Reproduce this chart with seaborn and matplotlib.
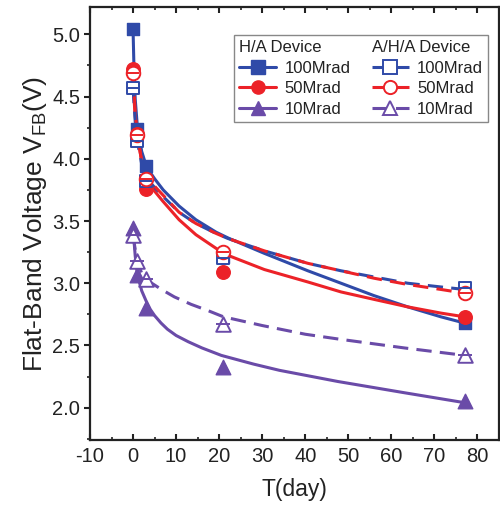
import numpy as np
import pandas as pd
import matplotlib
matplotlib.use("Agg")
import matplotlib.pyplot as plt
from matplotlib.lines import Line2D
from matplotlib.ticker import MultipleLocator
import seaborn as sns

# ---------------- data ----------------
days = [0, 1, 3, 21, 77]
ha_100 = [5.04, 4.24, 3.94, 3.21, 2.68]
ha_50 = [4.72, 4.20, 3.76, 3.09, 2.73]
ha_10 = [3.44, 3.07, 2.80, 2.33, 2.05]
aha_100 = [4.57, 4.14, 3.82, 3.20, 2.96]
aha_50 = [4.69, 4.19, 3.84, 3.25, 2.92]
aha_10 = [3.39, 3.18, 3.03, 2.67, 2.42]

# fitted curves
fit_ha_100_t = [0, 0.25, 0.5, 1, 2, 3, 4, 5, 7, 10.7, 14.6, 19.3, 22.3, 30.5, 40.6, 48.3, 56, 63.8, 71.5, 77]
fit_ha_100_v = [5.04, 4.68, 4.48, 4.26, 4.06, 3.95, 3.89, 3.84, 3.75, 3.62, 3.51, 3.41, 3.36, 3.24, 3.10, 3.00, 2.90, 2.81, 2.73, 2.68]
fit_ha_50_t = [0, 0.25, 0.5, 1, 2, 3, 4, 5, 6.9, 10.7, 14.6, 19.3, 21.6, 30.5, 40.6, 48.3, 56, 63.8, 71.5, 77]
fit_ha_50_v = [4.72, 4.47, 4.34, 4.19, 3.98, 3.86, 3.79, 3.74, 3.66, 3.51, 3.39, 3.28, 3.23, 3.11, 3.01, 2.93, 2.87, 2.81, 2.76, 2.73]
fit_ha_10_t = [0, 0.5, 1, 2, 3, 4, 5, 6.5, 8, 10, 12.8, 16, 20.5, 28, 34, 47.6, 63, 77]
fit_ha_10_v = [3.44, 3.22, 3.07, 2.94, 2.86, 2.79, 2.74, 2.68, 2.63, 2.58, 2.53, 2.48, 2.42, 2.35, 2.30, 2.21, 2.12, 2.04]
fit_aha_100_t = [0, 0.5, 1, 2, 3, 4, 5, 6.9, 10.7, 14.6, 19.3, 22, 30.5, 40.6, 48.3, 56, 63.8, 71.5, 77]
fit_aha_100_v = [4.57, 4.30, 4.14, 3.96, 3.87, 3.81, 3.77, 3.70, 3.57, 3.48, 3.40, 3.36, 3.26, 3.16, 3.10, 3.05, 3.00, 2.97, 2.95]
fit_aha_50_t = [0, 0.5, 1, 2, 3, 4, 5, 6.9, 10.7, 14.6, 19.3, 22, 30.5, 40.6, 48.3, 56, 63.8, 71.5, 77]
fit_aha_50_v = [4.69, 4.37, 4.19, 3.98, 3.88, 3.82, 3.78, 3.71, 3.57, 3.48, 3.40, 3.36, 3.26, 3.16, 3.10, 3.04, 2.99, 2.95, 2.92]
fit_aha_10_t = [0, 0.5, 1, 2, 3, 6.6, 9.6, 13.5, 17.4, 21, 30, 40, 48, 63, 77]
fit_aha_10_v = [3.39, 3.27, 3.18, 3.08, 3.03, 2.95, 2.89, 2.83, 2.78, 2.73, 2.66, 2.59, 2.55, 2.48, 2.42]

dose_labels = ["100Mrad", "50Mrad", "10Mrad"]
group_titles = ["H/A Device", "A/H/A Device"]
xticks = [-10, 0, 10, 20, 30, 40, 50, 60, 70, 80]
yticks = [2.0, 2.5, 3.0, 3.5, 4.0, 4.5, 5.0]
xlabel = "T(day)"
ylabel = r"Flat-Band Voltage V$_{\mathrm{FB}}$(V)"

# ---------------- style ----------------
sns.set_theme(style="ticks")
plt.rcParams["font.family"] = ["Liberation Sans", "DejaVu Sans"]
plt.rcParams["mathtext.fontset"] = "custom"
plt.rcParams["mathtext.rm"] = "Liberation Sans"
plt.rcParams["mathtext.it"] = "Liberation Sans:italic"
plt.rcParams["axes.unicode_minus"] = False

BLUE = "#2F4AA8"
RED = "#EC2228"
PURPLE = "#6A4BA8"
INK = "#222222"
LW = 2.2
DASH = (0, (5.0, 2.7))

fig = plt.figure(figsize=(5.0, 5.12), dpi=100)
ax = fig.add_axes([90 / 500, 1 - 440 / 512, 409 / 500, 433 / 512])

curves = [
    (fit_ha_100_t, fit_ha_100_v, BLUE, "-"),
    (fit_ha_50_t, fit_ha_50_v, RED, "-"),
    (fit_ha_10_t, fit_ha_10_v, PURPLE, "-"),
    (fit_aha_10_t, fit_aha_10_v, PURPLE, DASH),
    (fit_aha_100_t, fit_aha_100_v, BLUE, DASH),
    (fit_aha_50_t, fit_aha_50_v, RED, DASH),
]
for t, v, c, ls in curves:
    df = pd.DataFrame({"t": t, "v": v})
    sns.lineplot(data=df, x="t", y="v", ax=ax, color=c, linewidth=LW,
                 sort=False, estimator=None, zorder=2)
    ax.lines[-1].set_linestyle(ls)
    ax.lines[-1].set_solid_joinstyle("round")
    ax.lines[-1].set_dash_joinstyle("round")

filled = [
    (ha_100, BLUE, "s", 80),
    (ha_50, RED, "o", 95),
    (ha_10, PURPLE, "^", 110),
]
for vals, c, m, s in filled:
    sns.scatterplot(x=days, y=vals, ax=ax, marker=m, s=s, color=c,
                    edgecolor=c, linewidth=1.0, zorder=3)

opened = [
    (aha_100, BLUE, "s", 80, 8.2),
    (aha_50, RED, "o", 95, 9.0),
    (aha_10, PURPLE, "^", 110, 9.5),
]
for vals, c, m, s, bar in opened:
    sns.scatterplot(x=days, y=vals, ax=ax, marker=m, s=s, facecolor="white",
                    edgecolor=c, linewidth=1.4, zorder=4)
    ax.plot(days, vals, linestyle="none", marker="_", markersize=bar,
            markeredgewidth=1.4, color=c, zorder=5)

ax.set_xlim(-10, 85)
ax.set_ylim(1.74, 5.22)
ax.set_xticks(xticks)
ax.set_xticklabels([str(x) for x in xticks])
ax.set_yticks(yticks)
ax.set_yticklabels([f"{y:.1f}" for y in yticks])
ax.xaxis.set_minor_locator(MultipleLocator(5))
ax.yaxis.set_minor_locator(MultipleLocator(0.25))
ax.tick_params(axis="both", which="major", labelsize=14.5, width=1.5, length=4,
               top=True, right=True, color=INK, labelcolor=INK)
ax.tick_params(axis="both", which="minor", width=1.2, length=2.5,
               top=True, right=True, color=INK)
ax.tick_params(axis="x", which="both", direction="in", pad=5)
ax.tick_params(axis="y", which="both", direction="out", pad=3)
for sp in ax.spines.values():
    sp.set_visible(True)
    sp.set_linewidth(1.6)
    sp.set_color(INK)

ax.set_xlabel(xlabel, fontsize=16.5, color=INK, labelpad=9)
ax.set_ylabel(ylabel, fontsize=19, color=INK, labelpad=2)

# ---------------- legend ----------------
def hdr():
    return Line2D([], [], linestyle="none", marker=None)

handles = [hdr()]
labels = [group_titles[0]]
for c, m, lab in zip([BLUE, RED, PURPLE], ["s", "o", "^"], dose_labels):
    handles.append(Line2D([], [], color=c, lw=LW, marker=m, markersize=9.5,
                          markerfacecolor=c, markeredgecolor=c))
    labels.append(lab)
handles.append(hdr())
labels.append(group_titles[1])
for c, m, lab in zip([BLUE, RED, PURPLE], ["s", "o", "^"], dose_labels):
    handles.append(Line2D([], [], color=c, lw=LW, linestyle=DASH, marker=m,
                          markersize=9.5, markerfacecolor="white",
                          markeredgecolor=c, markeredgewidth=1.4))
    labels.append(lab)

leg = ax.legend(handles, labels, ncol=2, loc="upper right",
                bbox_to_anchor=(0.973, 0.935), borderaxespad=0,
                fontsize=12, frameon=True, fancybox=False, edgecolor="#888888",
                framealpha=1, handlelength=2.2, handletextpad=0.5,
                columnspacing=1.3, labelspacing=0.33, borderpad=0.3)
leg.get_frame().set_linewidth(1.0)
for txt in leg.get_texts():
    txt.set_color(INK)
try:
    for col in leg._legend_handle_box.get_children():
        row0 = col.get_children()[0]
        row0.get_children()[0].set_width(0)
        row0.sep = 0
except Exception:
    pass

fig.savefig("out.png", dpi=100)
